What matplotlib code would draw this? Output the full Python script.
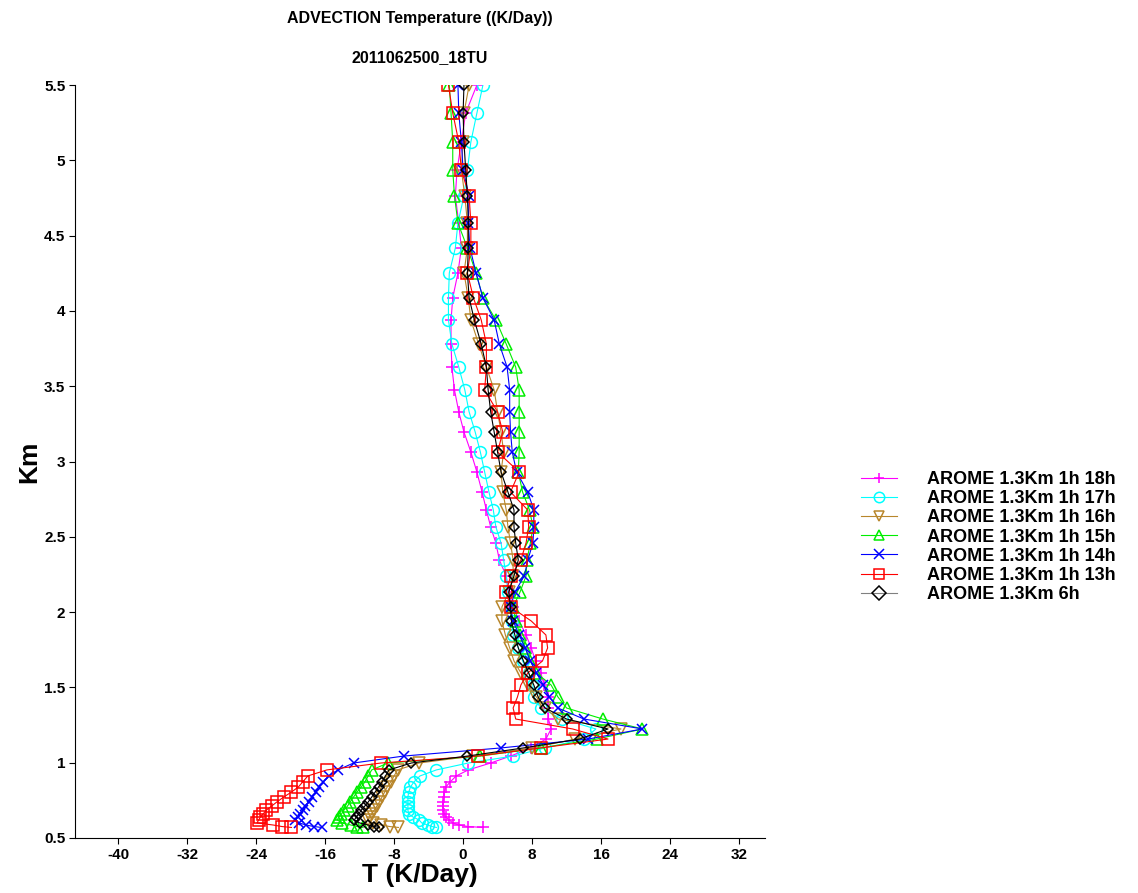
import numpy as np
import matplotlib.pyplot as plt

# model levels (km) shared by every run
km = [5.500, 5.314, 5.122, 4.936, 4.763, 4.584, 4.418, 4.252, 4.086, 3.940,
      3.780, 3.627, 3.475, 3.329, 3.196, 3.063, 2.930, 2.797, 2.678, 2.565,
      2.459, 2.346, 2.240, 2.133, 2.034, 1.941, 1.848, 1.762, 1.675, 1.596,
      1.516, 1.436, 1.363, 1.290, 1.224, 1.157, 1.098, 1.044, 0.998, 0.952,
      0.912, 0.872, 0.839, 0.805, 0.772, 0.739, 0.712, 0.686, 0.659, 0.639,
      0.620, 0.600, 0.586, 0.576, 0.570]

# advection of temperature (K/day), one list per run
t_18h = [1.6, 0.3, -0.2, -0.7, -0.9, -0.5, -0.2, -0.6, -1.2, -1.4,
         -1.4, -1.3, -1.0, -0.5, 0.1, 0.9, 1.6, 2.2, 2.7, 3.2,
         3.8, 4.2, 5.0, 5.3, 5.8, 6.5, 7.3, 7.9, 8.4, 9.0,
         9.4, 9.8, 9.9, 9.9, 10.2, 9.6, 7.9, 5.5, 3.2, 0.6,
         -0.8, -1.5, -2.0, -2.2, -2.2, -2.3, -2.3, -2.3, -2.2, -2.0,
         -1.6, -1.2, -0.5, 0.6, 2.3]
t_17h = [2.3, 1.6, 0.9, 0.5, 0.1, -0.6, -0.9, -1.6, -1.7, -1.7,
         -1.3, -0.5, 0.2, 0.7, 1.4, 2.0, 2.5, 3.0, 3.5, 3.8,
         4.4, 4.7, 5.0, 5.2, 5.5, 5.7, 5.8, 6.4, 6.9, 7.6,
         8.1, 8.2, 9.0, 11.5, 15.4, 14.0, 9.5, 5.8, 0.6, -3.1,
         -5.0, -5.7, -6.1, -6.3, -6.4, -6.4, -6.4, -6.4, -6.3, -5.8,
         -5.1, -4.8, -4.1, -3.6, -3.1]
t_16h = [0.7, 0.1, 0.0, -0.2, 0.2, 0.5, 0.5, 0.1, 0.6, 0.9,
         1.8, 2.7, 3.6, 4.0, 4.4, 4.7, 4.4, 4.6, 5.0, 5.2,
         5.5, 5.8, 5.8, 5.3, 4.5, 4.5, 4.9, 5.4, 5.9, 6.7,
         7.5, 8.5, 9.5, 11.0, 18.3, 13.0, 8.0, 1.2, -5.1, -7.6,
         -8.0, -8.4, -8.8, -9.1, -9.4, -9.7, -10.0, -10.3, -10.6, -10.8,
         -11.0, -10.5, -9.5, -8.5, -7.5]
t_15h = [-1.6, -1.4, -1.2, -1.2, -1.0, -0.6, 0.5, 1.5, 2.3, 3.8,
         5.0, 6.1, 6.5, 6.5, 6.5, 6.5, 6.4, 6.9, 7.7, 8.1,
         7.8, 7.4, 7.3, 6.6, 5.8, 6.1, 6.6, 7.2, 7.8, 8.5,
         10.2, 11.0, 12.0, 16.2, 20.8, 15.5, 9.0, 2.0, -8.7, -10.6,
         -11.0, -11.4, -11.8, -12.3, -12.7, -13.1, -13.4, -13.8, -14.1, -14.4,
         -14.6, -14.0, -13.0, -12.3, -11.6]
t_14h = [-0.6, -0.5, -0.2, 0.0, 0.7, 0.6, 0.8, 1.5, 2.3, 3.6,
         4.2, 5.1, 5.4, 5.4, 5.5, 5.7, 6.2, 7.5, 8.2, 8.2,
         8.1, 7.5, 7.1, 6.0, 5.5, 5.8, 6.5, 7.2, 7.8, 8.5,
         9.3, 10.0, 11.0, 14.0, 20.8, 14.5, 4.4, -6.9, -12.7, -14.5,
         -15.6, -16.2, -16.7, -17.1, -17.5, -17.9, -18.3, -18.6, -18.9, -19.2,
         -19.5, -19.0, -18.2, -17.3, -16.4]
t_13h = [-1.7, -1.2, -0.5, -0.2, 0.7, 0.9, 0.9, 0.5, 1.2, 2.1,
         2.7, 2.7, 2.5, 4.0, 4.6, 4.0, 6.5, 5.5, 7.5, 7.6,
         7.3, 6.7, 5.5, 5.0, 5.5, 7.9, 9.6, 9.8, 9.2, 7.5,
         6.7, 6.3, 5.8, 6.1, 12.7, 16.8, 9.0, 1.7, -9.5, -15.8,
         -18.0, -18.6, -19.1, -19.9, -20.8, -21.6, -22.2, -22.8, -23.2, -23.5,
         -23.7, -23.9, -22.0, -21.0, -19.9]
t_6h = [0.1, 0.0, 0.1, 0.3, 0.5, 0.6, 0.6, 0.5, 0.7, 1.3,
        2.1, 2.7, 2.9, 3.2, 3.6, 4.0, 4.4, 5.2, 5.9, 5.9,
        6.1, 6.4, 5.9, 5.3, 5.5, 5.6, 6.0, 6.4, 7.0, 7.6,
        8.2, 8.7, 9.5, 12.0, 16.8, 13.5, 7.0, 0.5, -6.0, -8.6,
        -9.0, -9.4, -9.8, -10.2, -10.6, -11.0, -11.4, -11.8, -12.1, -12.4,
        -12.6, -12.0, -11.0, -10.3, -9.7]

labels = ['AROME 1.3Km 1h 18h', 'AROME 1.3Km 1h 17h', 'AROME 1.3Km 1h 16h',
          'AROME 1.3Km 1h 15h', 'AROME 1.3Km 1h 14h', 'AROME 1.3Km 1h 13h',
          'AROME 1.3Km 6h']
series = [t_18h, t_17h, t_16h, t_15h, t_14h, t_13h, t_6h]
colors = ['#ff00ff', '#00ffff', '#b8862b', '#00ee00', '#0000ff', '#ff0000', '#000000']
markers = ['+', 'o', 'v', '^', 'x', 's', 'D']
msizes = [9, 8.5, 8, 8, 7, 8.5, 5]

plt.rcParams['font.family'] = ['Liberation Sans', 'DejaVu Sans']
plt.rcParams['axes.unicode_minus'] = False

fig = plt.figure(figsize=(11.38, 8.93), dpi=100)
ax = fig.add_axes([0.0659, 0.0616, 0.6063, 0.8432])

for i in range(len(series)):
    ax.plot(series[i], km, color=colors[i], marker=markers[i], markersize=msizes[i],
            markerfacecolor='none', markeredgewidth=1.1, linewidth=0.8,
            label=labels[i])

ax.set_xlim(-45, 35)
ax.set_ylim(0.5, 5.5)
ax.set_xticks(np.arange(-40, 33, 8))
ax.set_yticks(np.arange(0.5, 5.51, 0.5))
ax.set_yticklabels(['0.5', '1', '1.5', '2', '2.5', '3', '3.5', '4', '4.5', '5', '5.5'])
ax.spines['top'].set_visible(False)
ax.spines['right'].set_visible(False)
ax.tick_params(labelsize=11, length=4, direction='out', pad=3)
for lab in ax.get_xticklabels() + ax.get_yticklabels():
    lab.set_fontweight('bold')

ax.set_xlabel('T (K/Day)', fontsize=19, fontweight='bold', labelpad=1)
ax.set_ylabel('Km', fontsize=19, fontweight='bold', labelpad=2)

fig.text(0.369, 0.979, 'ADVECTION Temperature ((K/Day))', ha='center', va='center',
         fontsize=11.5, fontweight='bold')
fig.text(0.369, 0.936, '2011062500_18TU', ha='center', va='center',
         fontsize=11.5, fontweight='bold')

leg = fig.legend(loc='upper left', bbox_to_anchor=(0.757, 0.4725), frameon=False,
                 prop={'weight': 'bold', 'size': 13}, borderpad=0, borderaxespad=0,
                 handlelength=1.95, handletextpad=1.7, labelspacing=0.12)
for line in leg.get_lines():
    line.set_markersize(7.5)
leg.get_lines()[-1].set_color('#808080')
leg.get_lines()[-1].set_markeredgecolor('#000000')

fig.savefig('out.png', dpi=100)
